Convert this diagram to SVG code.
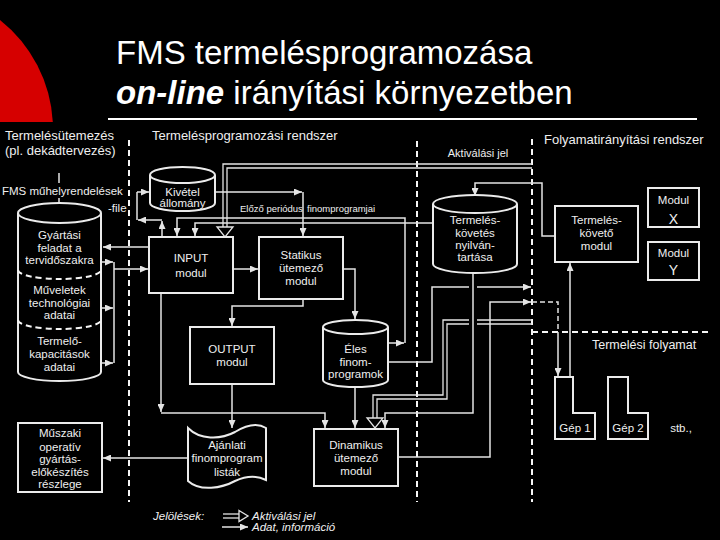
<svg xmlns="http://www.w3.org/2000/svg" width="720" height="540" viewBox="0 0 720 540">
<defs>
<style>
.t{font-family:"Liberation Sans",Arial,sans-serif;fill:#efefef;font-size:11.5px;text-anchor:middle}
.l{font-family:"Liberation Sans",Arial,sans-serif;fill:#efefef;font-size:13px}
.it{font-family:"Liberation Sans",Arial,sans-serif;fill:#efefef;font-size:11.5px;font-style:italic}
.ln{stroke:#e4e4e4;stroke-width:1.5;fill:none}
.sh{stroke:#ebebeb;stroke-width:2;fill:#000}
.sep{stroke:#f6f6f6;stroke-width:2;stroke-dasharray:6 4;fill:none}
.act{stroke:#e4e4e4;stroke-width:1.3;fill:none}
.hol{stroke:#e4e4e4;stroke-width:1.3;fill:#000}
</style>
<marker id="ar" markerWidth="8" markerHeight="7" refX="8" refY="3.5" orient="auto" markerUnits="userSpaceOnUse">
<path d="M0,0 L8,3.5 L0,7 Z" fill="#e4e4e4"/>
</marker>
<clipPath id="top"><rect x="0" y="0" width="720" height="122"/></clipPath>
</defs>
<rect x="0" y="0" width="720" height="540" fill="#000"/>
<g id="title">
<path d="M0,20 A140,140 0 0 1 52.8,122 L0,122 Z" fill="#d60000" clip-path="url(#top)"/>
<text x="116" y="64" style="font-family:'Liberation Sans',Arial,sans-serif;font-size:33px;fill:#fff">FMS termelésprogramozása</text>
<text x="116" y="104" style="font-family:'Liberation Sans',Arial,sans-serif;font-size:33px;fill:#fff"><tspan font-style="italic" font-weight="bold">on-line</tspan> irányítási környezetben</text>
<line x1="108" y1="119" x2="697" y2="119" stroke="#fff" stroke-width="2"/>
</g>
<g id="separators">
<line class="sep" x1="129" y1="140" x2="129" y2="502"/>
<line class="sep" x1="417" y1="141" x2="417" y2="502"/>
<line class="sep" x1="532" y1="139" x2="532" y2="502"/>
<line class="sep" x1="532" y1="332" x2="708" y2="332"/>
</g>
<g id="labels">
<text class="l" x="5" y="140">Termelésütemezés</text>
<text class="l" x="5" y="155">(pl. dekádtervezés)</text>
<text class="l" x="152" y="140">Termelésprogramozási rendszer</text>
<text class="l" x="544" y="144">Folyamatirányítási rendszer</text>
<text class="t" x="478" y="157" style="font-size:11px">Aktiválási jel</text>
<text class="t" x="2" y="195" style="text-anchor:start">FMS műhelyrendelések</text>
<text class="t" x="108" y="212" style="text-anchor:start">-file</text>
<text class="t" x="240" y="212" style="text-anchor:start;font-size:9.5px">Előző periódus</text>
<text class="t" x="307" y="212" style="text-anchor:start;font-size:9.5px">finomprogramjai</text>
<text class="l" x="592" y="349" style="font-size:12.5px">Termelési folyamat</text>
<text class="t" x="681" y="432">stb.,</text>
</g>
<g id="connectors">
<line class="ln" x1="59" y1="173" x2="59" y2="183"/>
<line class="ln" x1="59" y1="198" x2="59" y2="214" marker-end="url(#ar)"/>
<line class="ln" x1="101" y1="262" x2="113" y2="262" marker-end="url(#ar)"/>
<line class="ln" x1="101" y1="308" x2="113" y2="308" marker-end="url(#ar)"/>
<line class="ln" x1="101" y1="363" x2="113" y2="363" marker-end="url(#ar)"/>
<line class="ln" x1="114" y1="262" x2="114" y2="363"/>
<line class="ln" x1="114" y1="269" x2="148" y2="269" marker-end="url(#ar)"/>
<line class="ln" x1="149" y1="247" x2="103" y2="247" marker-end="url(#ar)"/>
<line class="ln" x1="162" y1="237" x2="162" y2="221" marker-end="url(#ar)"/>
<line class="ln" x1="162" y1="220" x2="138" y2="220" marker-end="url(#ar)"/>
<line class="ln" x1="137" y1="220" x2="137" y2="192"/>
<line class="ln" x1="137" y1="192" x2="149" y2="192" marker-end="url(#ar)"/>
<line class="ln" x1="215" y1="192" x2="302" y2="192" marker-end="url(#ar)"/>
<line class="ln" x1="303" y1="192" x2="303" y2="236" marker-end="url(#ar)"/>
<line class="ln" x1="388" y1="343" x2="404" y2="343" marker-end="url(#ar)"/>
<polyline class="ln" points="405,343 405,218 177,218 177,236" marker-end="url(#ar)"/>
<polyline class="ln" points="433,223 195,223 195,236" marker-end="url(#ar)"/>
<line class="ln" x1="233" y1="269" x2="258" y2="269" marker-end="url(#ar)"/>
<polyline class="ln" points="343,269 355,269 355,319" marker-end="url(#ar)"/>
<polyline class="ln" points="303,299 303,306 232,306 232,326" marker-end="url(#ar)"/>
<line class="ln" x1="161" y1="293" x2="161" y2="412" marker-end="url(#ar)"/>
<polyline class="ln" points="161,413 325,413 325,428" marker-end="url(#ar)"/>
<line class="ln" x1="232" y1="384" x2="232" y2="428" marker-end="url(#ar)"/>
<line class="ln" x1="188" y1="458" x2="103" y2="458" marker-end="url(#ar)"/>
<line class="ln" x1="355" y1="387" x2="355" y2="428" marker-end="url(#ar)"/>
<polyline class="ln" points="473,273 473,413 385,413 385,428" marker-end="url(#ar)"/>
<polyline class="ln" points="388,362 432,362 432,287 469,287"/>
<line class="ln" x1="477" y1="287" x2="531" y2="287" marker-end="url(#ar)"/>
<polyline class="ln" points="398,457 490,457 490,302 531,302" marker-end="url(#ar)"/>
<polyline class="ln" points="532,302 558,302 558,332" stroke-dasharray="5 3"/>
<line class="ln" x1="558" y1="332" x2="558" y2="376" marker-end="url(#ar)"/>
<polyline class="ln" points="555,236 542,236 542,183 475,183 475,196" marker-end="url(#ar)"/>
<line class="ln" x1="570" y1="377" x2="570" y2="263" marker-end="url(#ar)"/>
<polyline class="act" points="532,164 223,164 223,227"/>
<polyline class="act" points="532,168 227,168 227,227"/>
<path class="hol" d="M217,227 L233,227 L225,237 Z"/>
<polyline class="act" points="532,320 477,320"/>
<polyline class="act" points="469,320 443,320 443,395 373,395 373,418"/>
<polyline class="act" points="532,324 477,324"/>
<polyline class="act" points="469,324 447,324 447,399 377,399 377,418"/>
<path class="hol" d="M367,418 L383,418 L375,428 Z"/>
</g>
<g id="gyartasi">
<path class="sh" d="M18,213 V372 A41.5,9 0 0 0 101,372 V213"/>
<ellipse class="sh" cx="59.5" cy="213" rx="41.5" ry="10"/>
<path class="sep" d="M18,270 A41.5,9 0 0 0 101,270"/>
<path class="sep" d="M18,320 A41.5,9 0 0 0 101,320"/>
<text class="t" x="59.5" y="239">Gyártási</text>
<text class="t" x="59.5" y="252">feladat a</text>
<text class="t" x="59.5" y="264">tervidőszakra</text>
<text class="t" x="59.5" y="294">Műveletek</text>
<text class="t" x="59.5" y="307">technológiai</text>
<text class="t" x="59.5" y="319">adatai</text>
<text class="t" x="59.5" y="345">Termelő-</text>
<text class="t" x="59.5" y="358">kapacitások</text>
<text class="t" x="59.5" y="371">adatai</text>
</g>
<g id="kivetel">
<path class="sh" d="M150,175 V203 A32.5,8 0 0 0 215,203 V175"/>
<ellipse class="sh" cx="182.5" cy="175" rx="32.5" ry="8"/>
<text class="t" x="182.5" y="196">Kivétel</text>
<text class="t" x="182.5" y="207">állomány</text>
</g>
<g id="input">
<rect class="sh" x="149" y="237" width="84" height="56"/>
<text class="t" x="191" y="262">INPUT</text>
<text class="t" x="191" y="277">modul</text>
</g>
<g id="statikus">
<rect class="sh" x="259" y="237" width="84" height="62"/>
<text class="t" x="301" y="259">Statikus</text>
<text class="t" x="301" y="272">ütemező</text>
<text class="t" x="301" y="285">modul</text>
</g>
<g id="output">
<rect class="sh" x="190" y="327" width="84" height="57"/>
<text class="t" x="232" y="353">OUTPUT</text>
<text class="t" x="232" y="366">modul</text>
</g>
<g id="eles">
<path class="sh" d="M323,327 V380 A32.5,7 0 0 0 388,380 V327"/>
<ellipse class="sh" cx="355.5" cy="327" rx="32.5" ry="7"/>
<text class="t" x="355.5" y="353">Éles</text>
<text class="t" x="355.5" y="366">finom-</text>
<text class="t" x="355.5" y="378">programok</text>
</g>
<g id="ajanlati">
<path class="sh" d="M188,428 C200,440 220,440 235,432 C248,424 258,423 266,428 V480 C256,475 246,476 235,481 C222,488 200,492 188,481 Z"/>
<text class="t" x="227" y="449">Ajánlati</text>
<text class="t" x="227" y="462">finomprogram</text>
<text class="t" x="227" y="476">listák</text>
</g>
<g id="muszaki">
<rect class="sh" x="18" y="423" width="84" height="69"/>
<text class="t" x="60" y="437">Műszaki</text>
<text class="t" x="60" y="451">operatív</text>
<text class="t" x="60" y="463">gyártás-</text>
<text class="t" x="60" y="476">előkészítés</text>
<text class="t" x="60" y="488">részlege</text>
</g>
<g id="dinamikus">
<rect class="sh" x="314" y="429" width="84" height="57"/>
<text class="t" x="356" y="449">Dinamikus</text>
<text class="t" x="356" y="462">ütemező</text>
<text class="t" x="356" y="475">modul</text>
</g>
<g id="nyilvantartas">
<path class="sh" d="M433,204 V264 A42,9 0 0 0 517,264 V204"/>
<ellipse class="sh" cx="475" cy="204" rx="42" ry="9"/>
<text class="t" x="475" y="224">Termelés-</text>
<text class="t" x="475" y="237">követés</text>
<text class="t" x="475" y="249">nyilván-</text>
<text class="t" x="475" y="261">tartása</text>
</g>
<g id="termeleskoveto">
<rect class="sh" x="555" y="206" width="83" height="56"/>
<text class="t" x="596.5" y="224">Termelés-</text>
<text class="t" x="596.5" y="237">követő</text>
<text class="t" x="596.5" y="250">modul</text>
</g>
<g id="modulx">
<rect class="sh" x="648" y="188" width="51" height="39"/>
<text class="t" x="673.5" y="204">Modul</text>
<text class="t" x="673.5" y="224" style="font-size:14px">X</text>
</g>
<g id="moduly">
<rect class="sh" x="648" y="242" width="51" height="38"/>
<text class="t" x="673.5" y="257">Modul</text>
<text class="t" x="673.5" y="275" style="font-size:14px">Y</text>
</g>
<g id="gep1">
<path class="sh" d="M555,377 H573 V413 H595 V439 H555 Z"/>
<text class="t" x="575" y="432">Gép 1</text>
</g>
<g id="gep2">
<path class="sh" d="M608,377 H628 V413 H648 V439 H608 Z"/>
<text class="t" x="628" y="432">Gép 2</text>
</g>
<g id="legend">
<text class="it" x="153" y="520">Jelölések:</text>
<line class="act" x1="223" y1="514" x2="240" y2="514"/>
<line class="act" x1="223" y1="518" x2="240" y2="518"/>
<path class="hol" d="M239,510.5 L248,516 L239,521.5 Z"/>
<text class="it" x="252" y="520">Aktiválási jel</text>
<line class="ln" x1="222" y1="527" x2="248" y2="527" marker-end="url(#ar)"/>
<text class="it" x="252" y="531">Adat, információ</text>
</g>
</svg>
